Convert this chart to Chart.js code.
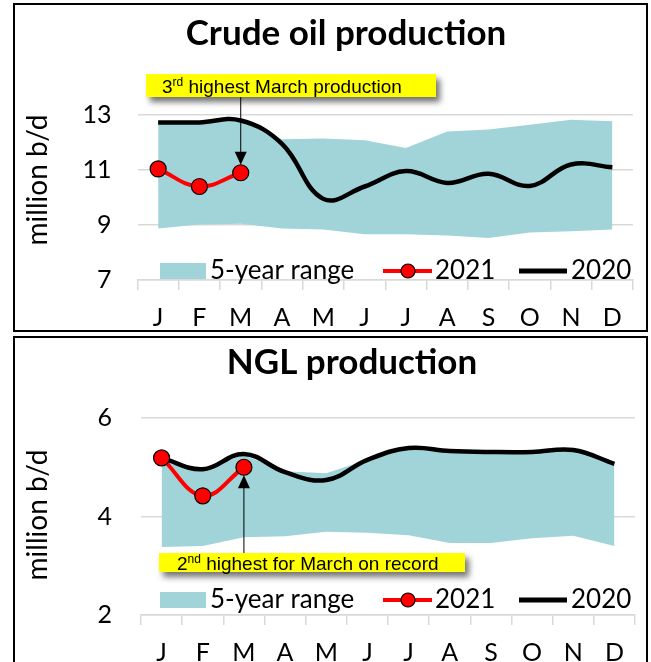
<!DOCTYPE html>
<html>
<head>
<meta charset="utf-8">
<script src="https://cdn.jsdelivr.net/npm/chart.js@4.4.1/dist/chart.umd.min.js"></script>
<style>
html, body { margin: 0; padding: 0; background: #fff; overflow: hidden; }
.box { position: absolute; left: 13px; width: 631px; border: 2px solid #000; background: #fff; }
#top { top: 3px; height: 325px; }
#bot { top: 336px; height: 330px; }
canvas { display: block; }
</style>
</head>
<body>
<div class="box" id="top"><canvas id="crude" width="631" height="325"></canvas></div>
<div class="box" id="bot"><canvas id="ngl" width="631" height="330"></canvas></div>
<script>
var months = ['J', 'F', 'M', 'A', 'M', 'J', 'J', 'A', 'S', 'O', 'N', 'D'];

// crude oil, million b/d
var crudeHigh = [12.77, 12.75, 12.78, 12.12, 12.15, 12.08, 11.8, 12.4, 12.47, 12.65, 12.83, 12.77];
var crudeLow = [8.87, 9.02, 9.05, 8.87, 8.84, 8.66, 8.66, 8.62, 8.53, 8.73, 8.77, 8.84];
var crude2020 = [12.73, 12.73, 12.8, 11.95, 9.95, 10.4, 10.96, 10.53, 10.86, 10.42, 11.2, 11.1];
var crude2021 = [11.04, 10.4, 10.9];
var crudeTicks = [7, 9, 11, 13];

// NGL, million b/d
var nglHigh = [5.19, 4.96, 5.25, 4.92, 4.88, 5.15, 5.37, 5.32, 5.3, 5.3, 5.34, 5.06];
var nglLow = [3.38, 3.40, 3.58, 3.6, 3.69, 3.67, 3.62, 3.46, 3.46, 3.56, 3.61, 3.40];
var ngl2020 = [5.19, 4.96, 5.27, 4.9, 4.74, 5.15, 5.39, 5.33, 5.31, 5.31, 5.35, 5.07];
var ngl2021 = [5.19, 4.42, 5.0];
var nglTicks = [2, 4, 6];

var bandColor = '#a0d4d8';
var gridColor = '#d9d9d9';
var font = 'Lato';

function noteText(ctx, x, y, big, sup, rest) {
	ctx.fillStyle = '#000';
	ctx.textBaseline = 'alphabetic';
	ctx.textAlign = 'left';
	ctx.font = '19px "Liberation Sans"';
	ctx.fillText(big, x, y);
	x += ctx.measureText(big).width;
	ctx.font = '12px "Liberation Sans"';
	ctx.fillText(sup, x, y - 7);
	x += ctx.measureText(sup).width;
	ctx.font = '19px "Liberation Sans"';
	ctx.fillText(rest, x, y);
}

function makeChart(id, o) {
	var decor = {
		id: 'decor',
		afterDraw: function (chart) {
			var ctx = chart.ctx;
			var xs = chart.scales.x, ys = chart.scales.y;
			ctx.save();

			// title
			ctx.fillStyle = '#000';
			ctx.font = 'bold 35px ' + font;
			ctx.textAlign = 'center';
			ctx.textBaseline = 'middle';
			ctx.fillText(o.title, o.titleX, o.titleY);

			// y title
			ctx.save();
			ctx.translate(23, o.yTitleY);
			ctx.rotate(-Math.PI / 2);
			ctx.font = '28px ' + font;
			ctx.fillText('million b/d', 0, 0);
			ctx.restore();

			// legend
			var x0 = 145, yc = o.legendY;
			ctx.fillStyle = bandColor;
			ctx.fillRect(x0, yc - 8, 46, 16);
			ctx.fillStyle = '#000';
			ctx.font = '26px ' + font;
			ctx.textAlign = 'left';
			ctx.textBaseline = 'middle';
			ctx.fillText('5-year range', x0 + 50, yc);
			ctx.strokeStyle = '#ff0000';
			ctx.lineWidth = 4;
			ctx.beginPath(); ctx.moveTo(x0 + 223, yc); ctx.lineTo(x0 + 272, yc); ctx.stroke();
			ctx.beginPath(); ctx.arc(x0 + 248, yc, 7, 0, Math.PI * 2);
			ctx.fillStyle = '#ff0000'; ctx.fill();
			ctx.lineWidth = 1.2; ctx.strokeStyle = '#000'; ctx.stroke();
			ctx.fillStyle = '#000';
			ctx.fillText('2021', x0 + 275, yc);
			ctx.lineWidth = 5;
			ctx.beginPath(); ctx.moveTo(x0 + 359, yc); ctx.lineTo(x0 + 407, yc); ctx.stroke();
			ctx.fillText('2020', x0 + 411, yc);

			// note box with shadow
			var b = o.note;
			ctx.save();
			ctx.shadowColor = 'rgba(0,0,0,0.55)';
			ctx.shadowBlur = 6;
			ctx.shadowOffsetX = 4;
			ctx.shadowOffsetY = 5;
			ctx.fillStyle = '#ffff00';
			ctx.fillRect(b.x, b.y, b.w, b.h);
			ctx.restore();
			noteText(ctx, b.tx, b.ty, b.big, b.sup, b.rest);

			// arrow to March 2021
			var ax = xs.getPixelForValue(2);
			var py = ys.getPixelForValue(o.y2021[2]);
			var fromY, tipY, dir;
			if (b.below) { fromY = b.y; tipY = py + 8; dir = 1; }
			else { fromY = b.y + b.h; tipY = py - 8; dir = -1; }
			ctx.strokeStyle = '#000';
			ctx.lineWidth = 1;
			ctx.beginPath(); ctx.moveTo(ax, fromY); ctx.lineTo(ax, tipY + dir * 12); ctx.stroke();
			ctx.fillStyle = '#000';
			ctx.beginPath();
			ctx.moveTo(ax, tipY);
			ctx.lineTo(ax - 6, tipY + dir * 13);
			ctx.lineTo(ax + 6, tipY + dir * 13);
			ctx.closePath();
			ctx.fill();

			ctx.restore();
		}
	};

	var ctx = document.getElementById(id).getContext('2d');
	return new Chart(ctx, {
		type: 'line',
		data: {
			labels: months,
			datasets: [
				{
					label: '5-year range',
					data: o.high,
					fill: '+1',
					backgroundColor: bandColor,
					borderColor: 'rgba(0,0,0,0)',
					borderWidth: 0,
					pointRadius: 0,
					tension: 0,
					order: 3
				},
				{
					label: 'low',
					data: o.low,
					fill: false,
					borderColor: 'rgba(0,0,0,0)',
					borderWidth: 0,
					pointRadius: 0,
					tension: 0,
					order: 3
				},
				{
					label: '2020',
					data: o.y2020,
					fill: false,
					borderColor: '#000',
					borderWidth: 4.5,
					pointRadius: 0,
					tension: 0.4,
					order: 2
				},
				{
					label: '2021',
					data: o.y2021,
					fill: false,
					borderColor: '#ff0000',
					borderWidth: 4,
					pointRadius: 8,
					pointBackgroundColor: '#ff0000',
					pointBorderColor: '#000',
					pointBorderWidth: 1.2,
					tension: 0.4,
					order: 1
				}
			]
		},
		options: {
			responsive: false,
			animation: false,
			devicePixelRatio: 1,
			layout: { padding: o.padding },
			plugins: {
				legend: { display: false },
				tooltip: { enabled: false },
				title: { display: false }
			},
			scales: {
				x: {
					type: 'category',
					offset: true,
					grid: { offset: true, drawOnChartArea: false, tickLength: 10, color: gridColor, lineWidth: 1.5 },
					border: { color: gridColor, width: 1.5 },
					ticks: { color: '#000', font: { family: font, size: 25 }, padding: 13, maxRotation: 0, autoSkip: false },
					afterFit: function (s) { s.height = 50; }
				},
				y: {
					min: o.ticks[0],
					max: o.ticks[o.ticks.length - 1],
					grid: { color: gridColor, lineWidth: 1.5, drawTicks: false },
					border: { display: false },
					ticks: { color: '#000', font: { family: font, size: 25 }, padding: o.tickPad },
					afterBuildTicks: function (s) { s.ticks = o.ticks.map(function (v) { return { value: v }; }); },
					afterFit: function (s) { s.width = o.yWidth; }
				}
			}
		},
		plugins: [decor]
	});
}

makeChart('crude', {
	title: 'Crude oil production', titleX: 331, titleY: 29, yTitleY: 175, legendY: 266,
	high: crudeHigh, low: crudeLow, y2020: crude2020, y2021: crude2021, ticks: crudeTicks,
	padding: { top: 110, right: 13, bottom: 0, left: 0 }, yWidth: 122.5, tickPad: 26,
	note: { x: 131, y: 69, w: 290, h: 23, tx: 147, ty: 88, big: '3', sup: 'rd', rest: ' highest March production', below: false }
});

makeChart('ngl', {
	title: 'NGL production', titleX: 337, titleY: 25, yTitleY: 177, legendY: 262,
	high: nglHigh, low: nglLow, y2020: ngl2020, y2021: ngl2021, ticks: nglTicks,
	padding: { top: 80, right: 11, bottom: 3, left: 0 }, yWidth: 126, tickPad: 29,
	note: { x: 144, y: 215, w: 306, h: 19, tx: 162, ty: 232, big: '2', sup: 'nd', rest: ' highest for March on record', below: true }
});
</script>
</body>
</html>
